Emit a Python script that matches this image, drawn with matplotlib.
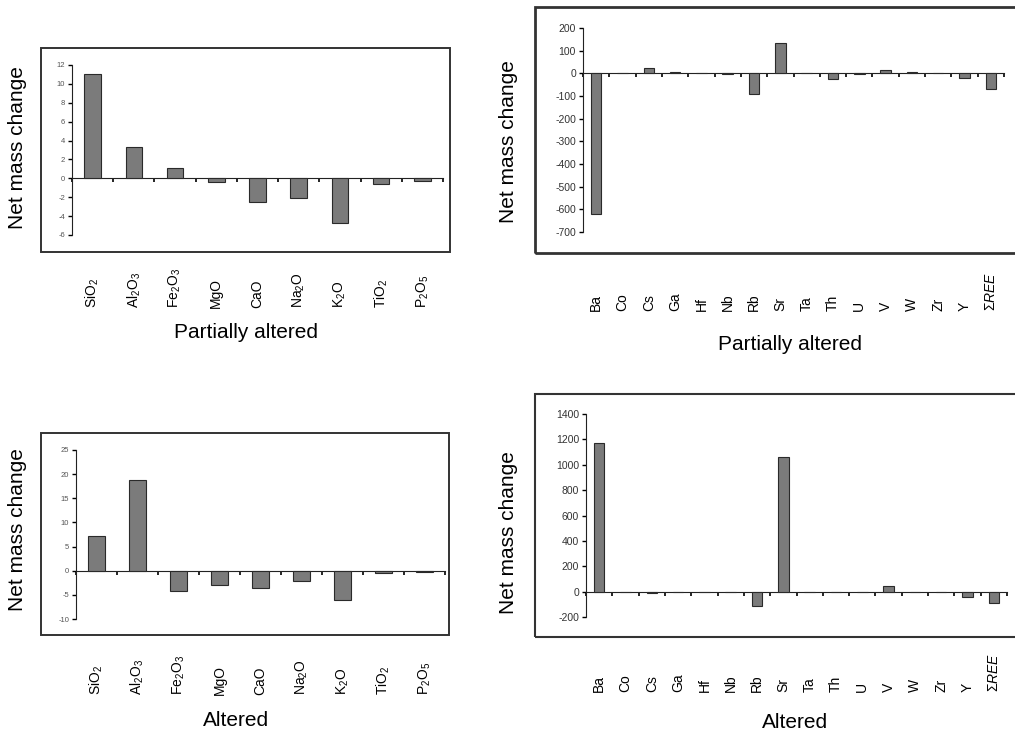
import numpy as np
import matplotlib
matplotlib.use("Agg")
import matplotlib.pyplot as plt
import matplotlib.transforms as mtransforms
from matplotlib.patches import Rectangle

W, H = 1015, 730

oxides = ["SiO$_2$", "Al$_2$O$_3$", "Fe$_2$O$_3$", "MgO", "CaO",
          "Na$_2$O", "K$_2$O", "TiO$_2$", "P$_2$O$_5$"]
partial_major = [11.0, 3.3, 1.1, -0.4, -2.5, -2.1, -4.7, -0.6, -0.3]
altered_major = [7.2, 18.8, -4.3, -2.9, -3.5, -2.1, -6.1, -0.5, -0.2]

traces = ["Ba", "Co", "Cs", "Ga", "Hf", "Nb", "Rb", "Sr", "Ta", "Th",
          "U", "V", "W", "Zr", "Y", "Σ$\\mathit{REE}$"]
partial_trace = [-620, 0, 25, 8, 0, -5, -90, 133, 0, -27, -5, 13, 7, 0, -22, -67]
altered_trace = [1170, 0, -10, 0, 0, 0, -110, 1060, 0, 0, 0, 45, 0, 0, -40, -92]

major_partial_ticks = [-6, -4, -2, 0, 2, 4, 6, 8, 10, 12]
major_altered_ticks = [-10, -5, 0, 5, 10, 15, 20, 25]
trace_partial_ticks = [-700, -600, -500, -400, -300, -200, -100, 0, 100, 200]
trace_altered_ticks = [-200, 0, 200, 400, 600, 800, 1000, 1200, 1400]

plt.rcParams["font.family"] = ["Liberation Sans", "DejaVu Sans"]
plt.rcParams["mathtext.fontset"] = "custom"
plt.rcParams["mathtext.rm"] = "Liberation Sans"
plt.rcParams["mathtext.it"] = "Liberation Sans:italic"
plt.rcParams["axes.unicode_minus"] = False

fig = plt.figure(figsize=(W / 100, H / 100), dpi=100)


def panel(ax_px, frame_px, labels, values, yticks, ysize, ycolor,
          ylab_xy, lab_bottom, xlabel, xlab_xy, frame_lw):
    """Excel-like bar panel; positions are given in pixels of the figure"""
    x0, y0, x1, y1 = ax_px
    ax = fig.add_axes([x0 / W, 1 - y1 / H, (x1 - x0) / W, (y1 - y0) / H])
    ax.patch.set_visible(False)
    n = len(labels)
    x = np.arange(n)
    ax.bar(x, values, width=0.4, color="#7b7b7b", edgecolor="#2a2a2a",
           linewidth=0.8, zorder=3)
    ax.set_xlim(-0.5, n - 0.5)
    ax.set_ylim(yticks[0], yticks[-1])
    ax.spines["top"].set_visible(False)
    ax.spines["right"].set_visible(False)
    ax.spines["bottom"].set_position(("data", 0))
    ax.spines["bottom"].set_color("#222222")
    ax.spines["left"].set_color("#222222")
    ax.set_yticks(yticks)
    ax.tick_params(axis="y", direction="out", length=3, width=1,
                   labelsize=ysize, labelcolor=ycolor, pad=2)
    ax.set_xticks(np.arange(n + 1) - 0.5)
    ax.set_xticklabels([])
    ax.tick_params(axis="x", direction="out", length=3, width=1.2)

    trans = mtransforms.blended_transform_factory(ax.transData, fig.transFigure)
    for xi, lab in zip(x, labels):
        ax.text(xi, 1 - lab_bottom / H, lab, transform=trans, rotation=90,
                ha="center", va="bottom", fontsize=10, clip_on=False)

    fig.text(ylab_xy[0] / W, 1 - ylab_xy[1] / H, "Net mass change",
             rotation=90, ha="center", va="center", fontsize=15)
    fig.text(xlab_xy[0] / W, 1 - xlab_xy[1] / H, xlabel,
             ha="center", va="center", fontsize=15)

    fx0, fy0, fx1, fy1 = frame_px
    fig.add_artist(Rectangle((fx0 / W, 1 - fy1 / H), (fx1 - fx0) / W,
                             (fy1 - fy0) / H, transform=fig.transFigure,
                             fill=False, edgecolor="#333333", linewidth=frame_lw))
    return ax


panel((72, 65, 443, 235), (41, 48, 450, 252), oxides, partial_major,
      major_partial_ticks, 5.5, "#555555", (18, 148), 308,
      "Partially altered", (246, 332), 1.4)
panel((76, 450, 445, 619), (41, 433, 449, 635), oxides, altered_major,
      major_altered_ticks, 5.5, "#555555", (18, 530), 695,
      "Altered", (236, 720), 1.4)
panel((583, 28, 1004, 232), (535, 7, 1040, 253), traces, partial_trace,
      trace_partial_ticks, 7.5, "#333333", (509, 142), 311,
      "Partially altered", (790, 345), 2.0)
panel((586, 414, 1007, 617), (535, 394, 1040, 637), traces, altered_trace,
      trace_altered_ticks, 7.5, "#333333", (509, 533), 692,
      "Altered", (795, 722), 1.5)

fig.savefig("out.png", dpi=100)
